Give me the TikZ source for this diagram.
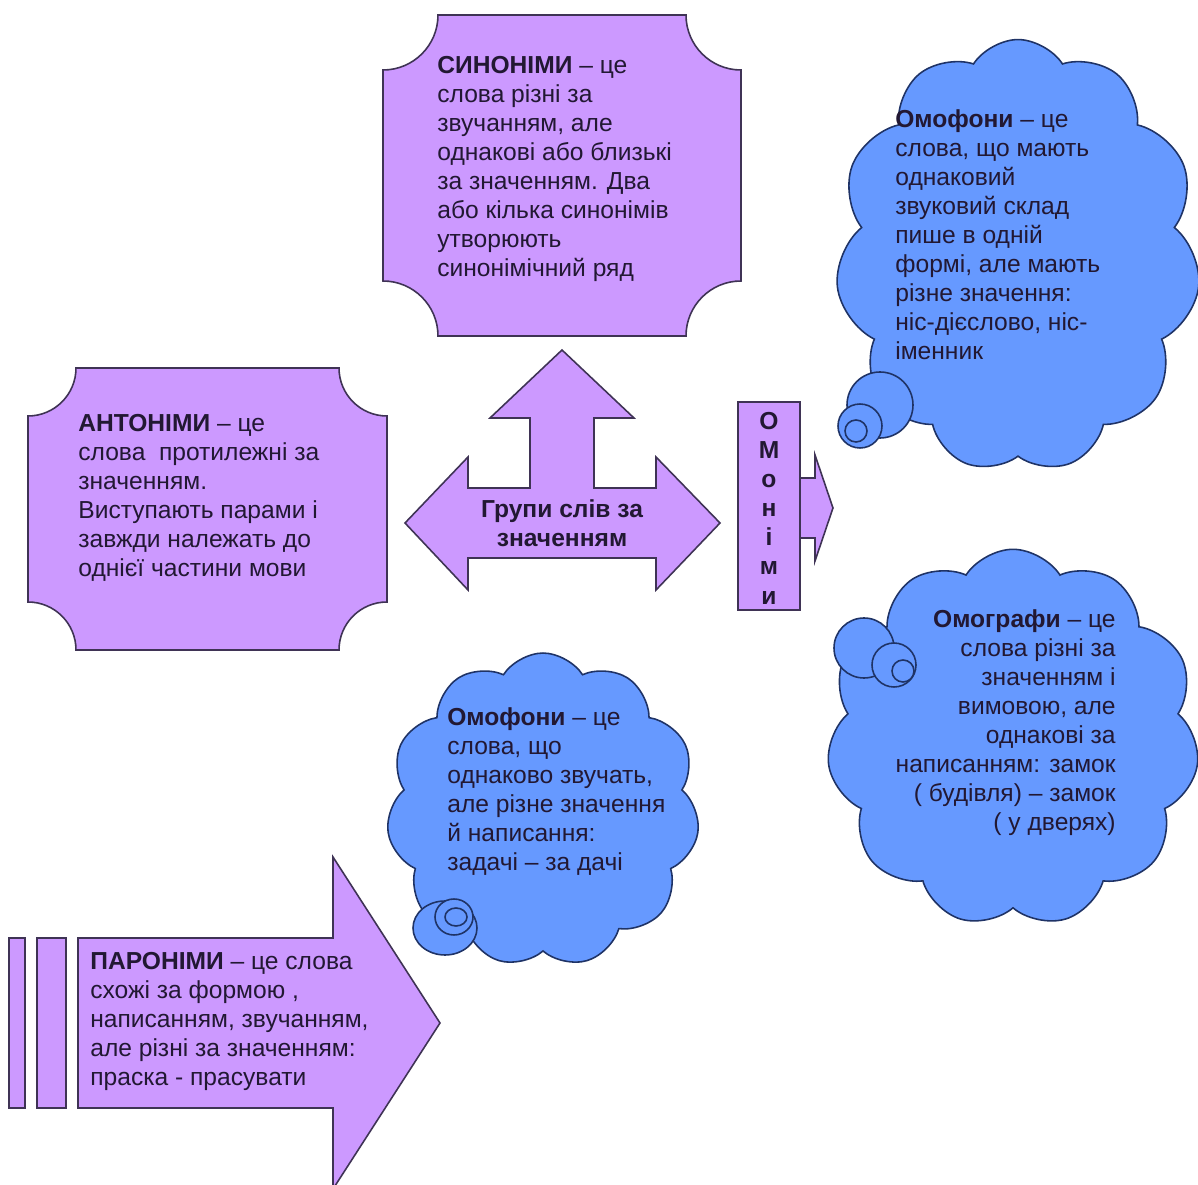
\documentclass[tikz,border=0pt]{standalone}
\usepackage{fontspec}
\setmainfont{Liberation Sans}
\usepackage{tikz}
\usetikzlibrary{shapes,positioning}
\definecolor{mlilac}{HTML}{CC99FF}
\definecolor{msky}{HTML}{6699FF}
\definecolor{medge}{HTML}{3F3355}
\definecolor{mnavy}{HTML}{1F3366}
\definecolor{mink}{HTML}{221833}
\tikzstyle{plate}=[fill=mlilac, draw=medge, line width=0.9]
\tikzstyle{puff}=[cloud, cloud puffs=11, cloud puff arc=115, fill=msky, draw=mnavy, line width=0.9, inner sep=0pt]
\tikzstyle{bubble}=[fill=msky, draw=mnavy, line width=0.9]
\tikzstyle{txt}=[text=mink, inner sep=0pt, align=left, font=\fontsize{14}{16.5}\selectfont]
% rectangle with concave corners: x1, y1, x2, y2, r
\newcommand{\plaque}[5]{
  \draw[plate] ({#1+#5},#2) -- ({#3-#5},#2)
    .. controls ({#3-#5},{#2+0.552*#5}) and ({#3-0.552*#5},{#2+#5}) .. (#3,{#2+#5})
    -- (#3,{#4-#5})
    .. controls ({#3-0.552*#5},{#4-#5}) and ({#3-#5},{#4-0.552*#5}) .. ({#3-#5},#4)
    -- ({#1+#5},#4)
    .. controls ({#1+#5},{#4-0.552*#5}) and ({#1+0.552*#5},{#4-#5}) .. (#1,{#4-#5})
    -- (#1,{#2+#5})
    .. controls ({#1+0.552*#5},{#2+#5}) and ({#1+#5},{#2+0.552*#5}) .. ({#1+#5},#2)
    -- cycle;
}

\begin{document}
\begin{tikzpicture}[x=0.02cm, y=-0.02cm]
    \useasboundingbox (0,0) rectangle (1198,1185);
    \clip (0,0) rectangle (1198,1185);

    % purple boxes
    \plaque{383}{15}{741}{336}{55}
    \plaque{28}{368}{387}{650}{48}
    \node[txt, anchor=north west] at (437,56) (syn) {\textbf{СИНОНІМИ} – це\\слова різні за\\звучанням, але\\однакові або близькі\\за значенням. Два\\або кілька синонімів\\утворюють\\синонімічний ряд};
    \node[txt, anchor=north west] at (78,414) (ant) {\textbf{АНТОНІМИ} – це\\слова\ \ протилежні за\\значенням.\\Виступають парами і\\завжди належать до\\однієї частини мови};

    % three-way arrow
    \draw[plate] (405,523) -- (468,457) -- (468,488) -- (530,488) -- (530,418) -- (490,418)
        -- (562,350) -- (634,418) -- (594,418) -- (594,488) -- (656,488) -- (656,457)
        -- (720,523) -- (656,590) -- (656,558) -- (468,558) -- (468,590) -- cycle;
    \node[txt, align=center, font=\fontsize{14}{16.5}\selectfont\bfseries] at (562,523) (grp) {Групи слів за\\значенням};

    % vertical box with small arrow
    \draw[plate] (800,478) -- (815,478) -- (815,455) -- (833,508) -- (815,561) -- (815,538) -- (800,538);
    \draw[plate] (738,402) rectangle (800,610);
    \node[txt, align=center, font=\fontsize{14}{16.6}\selectfont\bfseries] at (769,508) (hom) {О\\М\\о\\н\\і\\м\\и};

    % clouds
    \node[puff, minimum width=7.3cm, minimum height=8.66cm] at (1018,256) (cloudA) {};
    \draw[bubble] (880,405) circle[radius=33];
    \draw[bubble] (860,426) circle[radius=22];
    \draw[bubble] (856,431) circle[radius=11];
    \node[txt, anchor=north west] at (895,109) (omf) {\textbf{Омофони} – це\\слова, що мають\\однаковий\\звуковий склад\\пише в одній\\формі, але мають\\різне значення:\\ніс-дієслово, ніс-\\іменник};

    \node[puff, minimum width=7.45cm, minimum height=7.55cm] at (1013,738) (cloudB) {};
    \draw[bubble] (864,648) circle[radius=30];
    \draw[bubble] (894,665) circle[radius=22];
    \draw[bubble] (903,671) circle[radius=11];
    \node[txt, anchor=north east, align=right] at (1116,609) (omg) {\textbf{Омографи} – це\\слова різні за\\значенням і\\вимовою, але\\однакові за\\написанням: замок\\( будівля) – замок\\( у дверях)};

    \node[puff, minimum width=6.26cm, minimum height=6.28cm] at (543,810) (cloudC) {};
    \draw[bubble] (445,928) ellipse[x radius=32, y radius=27];
    \draw[bubble] (454,917) ellipse[x radius=19, y radius=18];
    \draw[bubble] (456,917) ellipse[x radius=11, y radius=9];
    \node[txt, anchor=north west] at (447,707) (omz) {\textbf{Омофони} – це\\слова, що\\однаково звучать,\\але різне значення\\й написання:\\задачі – за дачі};

    % striped arrow
    \draw[plate] (9,938) rectangle (25,1108);
    \draw[plate] (37,938) rectangle (66,1108);
    \draw[plate] (78,938) -- (333,938) -- (333,857) -- (440,1023) -- (333,1189) -- (333,1108) -- (78,1108) -- cycle;
    \node[txt, anchor=north west] at (90,952) (par) {\textbf{ПАРОНІМИ} – це слова\\схожі за формою ,\\написанням, звучанням,\\але різні за значенням:\\праска - прасувати};
\end{tikzpicture}
\end{document}
